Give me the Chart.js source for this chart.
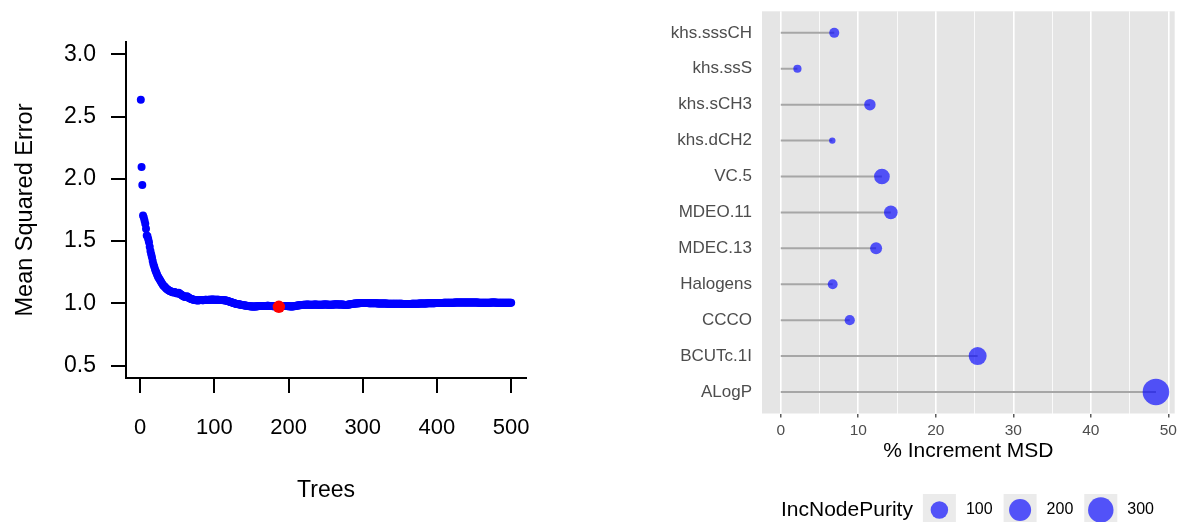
<!DOCTYPE html>
<html>
<head>
<meta charset="utf-8">
<script src="https://cdn.jsdelivr.net/npm/chart.js@4.4.1/dist/chart.umd.min.js"></script>
<style>
  body { margin: 0; background: #fff; overflow: hidden; }
  #wrap { position: relative; width: 1178px; height: 522px; overflow: hidden; }
  canvas { position: absolute; }
  #mseChart { left: 0; top: 0; }
  #impChart { left: 600px; top: -2px; }
</style>
</head>
<body>
<div id="wrap">
  <canvas id="mseChart" width="600" height="522"></canvas>
  <canvas id="impChart" width="588" height="524"></canvas>
</div>
<script>
// left panel: error vs number of trees (tree 1..500)
const mse = [
  2.635,2.095,1.950,1.705,1.690,1.665,1.640,1.600,1.545,1.540,
  1.515,1.490,1.455,1.420,1.395,1.370,1.340,1.315,1.295,1.275,
  1.260,1.245,1.230,1.215,1.205,1.195,1.185,1.175,1.165,1.155,
  1.145,1.140,1.135,1.128,1.122,1.116,1.112,1.108,1.104,1.100,
  1.097,1.095,1.092,1.090,1.088,1.092,1.090,1.086,1.083,1.080,
  1.082,1.085,1.080,1.075,1.070,1.066,1.062,1.058,1.055,1.052,
  1.050,1.052,1.056,1.052,1.046,1.042,1.040,1.037,1.034,1.032,
  1.030,1.029,1.028,1.027,1.025,1.024,1.024,1.023,1.024,1.025,
  1.026,1.027,1.026,1.025,1.025,1.026,1.027,1.028,1.028,1.027,
  1.027,1.028,1.029,1.028,1.028,1.029,1.030,1.030,1.029,1.029,
  1.028,1.028,1.028,1.029,1.029,1.028,1.027,1.026,1.027,1.027,
  1.026,1.025,1.025,1.024,1.023,1.022,1.020,1.018,1.016,1.014,
  1.012,1.010,1.008,1.006,1.004,1.002,1.000,0.998,0.996,0.995,
  0.994,0.993,0.992,0.991,0.990,0.988,0.987,0.986,0.985,0.984,
  0.983,0.982,0.981,0.980,0.979,0.978,0.977,0.976,0.976,0.975,
  0.975,0.975,0.975,0.975,0.975,0.975,0.976,0.977,0.977,0.978,
  0.978,0.978,0.979,0.979,0.979,0.978,0.978,0.978,0.979,0.979,
  0.980,0.980,0.980,0.979,0.979,0.978,0.978,0.978,0.977,0.977,
  0.977,0.977,0.976,0.976,0.976,0.975,0.972,0.975,0.976,0.976,
  0.977,0.978,0.978,0.979,0.979,0.979,0.978,0.978,0.977,0.977,
  0.976,0.976,0.975,0.975,0.975,0.976,0.976,0.977,0.978,0.980,
  0.981,0.982,0.983,0.984,0.985,0.985,0.986,0.987,0.987,0.988,
  0.988,0.989,0.989,0.989,0.990,0.990,0.989,0.989,0.989,0.988,
  0.988,0.988,0.989,0.989,0.990,0.990,0.990,0.989,0.989,0.988,
  0.988,0.988,0.988,0.989,0.989,0.989,0.990,0.990,0.991,0.991,
  0.990,0.990,0.989,0.989,0.988,0.988,0.988,0.989,0.989,0.990,
  0.990,0.991,0.991,0.992,0.992,0.991,0.991,0.990,0.990,0.990,
  0.991,0.991,0.990,0.989,0.988,0.987,0.987,0.987,0.988,0.989,
  0.990,0.991,0.992,0.993,0.994,0.995,0.996,0.997,0.998,0.998,
  0.999,0.999,1.000,1.000,1.001,1.001,1.002,1.002,1.002,1.002,
  1.002,1.002,1.003,1.003,1.002,1.002,1.002,1.001,1.001,1.001,
  1.001,1.000,1.000,1.000,1.001,1.001,1.001,1.000,1.000,0.999,
  0.999,0.999,0.999,0.999,0.998,0.998,0.998,0.998,0.998,0.998,
  0.998,0.998,0.997,0.997,0.997,0.997,0.997,0.997,0.996,0.996,
  0.996,0.996,0.996,0.996,0.996,0.996,0.996,0.996,0.996,0.996,
  0.996,0.996,0.996,0.995,0.995,0.995,0.995,0.995,0.995,0.995,
  0.995,0.995,0.995,0.995,0.995,0.996,0.996,0.996,0.996,0.996,
  0.997,0.997,0.997,0.997,0.997,0.998,0.998,0.998,0.998,0.998,
  0.998,0.999,0.999,0.999,0.999,0.999,1.000,1.000,1.000,1.000,
  1.000,1.000,1.000,1.001,1.001,1.001,1.001,1.002,1.002,1.002,
  1.002,1.002,1.002,1.003,1.003,1.003,1.003,1.003,1.004,1.004,
  1.004,1.004,1.004,1.004,1.004,1.005,1.005,1.005,1.005,1.005,
  1.005,1.005,1.005,1.006,1.006,1.006,1.006,1.006,1.006,1.006,
  1.006,1.006,1.006,1.006,1.006,1.006,1.006,1.006,1.006,1.006,
  1.006,1.006,1.006,1.006,1.006,1.006,1.006,1.006,1.006,1.006,
  1.006,1.006,1.006,1.006,1.006,1.005,1.005,1.005,1.005,1.005,
  1.005,1.005,1.005,1.005,1.005,1.005,1.005,1.005,1.005,1.005,
  1.005,1.005,1.006,1.006,1.006,1.006,1.006,1.006,1.006,1.005,
  1.005,1.005,1.005,1.005,1.005,1.005,1.005,1.005,1.005,1.005,
  1.005,1.005,1.005,1.005,1.004,1.004,1.004,1.004,1.004,1.004
];
const treeTicks = [0, 100, 200, 300, 400, 500];
const mseTicks = [0.5, 1.0, 1.5, 2.0, 2.5, 3.0];

// right panel: variable importance
const features = ['khs.sssCH', 'khs.ssS', 'khs.sCH3', 'khs.dCH2', 'VC.5', 'MDEO.11',
                  'MDEC.13', 'Halogens', 'CCCO', 'BCUTc.1I', 'ALogP'];
const incMSE = [6.9, 2.15, 11.5, 6.65, 13.05, 14.2, 12.3, 6.7, 8.9, 25.4, 48.4];
const incNodePurity = [24, 15, 35, 12, 90, 60, 40, 23, 25, 133, 380];
const msdTicks = [0, 10, 20, 30, 40, 50];
const msdGrid = [0, 5, 10, 15, 20, 25, 30, 35, 40, 45, 50];
const purityBreaks = [100, 200, 300];

const FONT = "'Liberation Sans', Arial, Helvetica, sans-serif";
Chart.defaults.font.family = FONT;

// ---------- left chart ----------
const points = mse.map((v, i) => ({ x: i + 1, y: v }));
let best = 0;
mse.forEach((v, i) => { if (v < mse[best]) best = i; });

new Chart(document.getElementById('mseChart'), {
  type: 'scatter',
  data: {
    datasets: [
      { data: [{ x: best + 1, y: mse[best] }], backgroundColor: '#ff0000', pointRadius: 6.2, borderWidth: 0, order: 0 },
      { data: points, backgroundColor: '#0000ff', pointRadius: 4, borderWidth: 0, order: 1 }
    ]
  },
  options: {
    responsive: false,
    devicePixelRatio: 1,
    animation: false,
    layout: { padding: { top: 42, right: 74, left: 0, bottom: 0 } },
    plugins: { legend: { display: false }, tooltip: { enabled: false } },
    scales: {
      x: {
        type: 'linear', min: -18.96, max: 519.96,
        afterBuildTicks: s => { s.ticks = treeTicks.map(v => ({ value: v })); },
        afterFit: s => { s.height = 144; s.paddingLeft = 0; s.paddingRight = 0; },
        grid: { drawOnChartArea: false, tickLength: 15, color: '#000', lineWidth: 2 },
        border: { color: '#000', width: 2 },
        ticks: { color: '#000', font: { size: 22 }, padding: 22, maxRotation: 0, autoSkip: false },
        title: { display: true, text: 'Trees', color: '#000', font: { size: 23 }, padding: { top: 0, bottom: 18 } }
      },
      y: {
        type: 'linear', min: 0.4, max: 3.1,
        afterBuildTicks: s => { s.ticks = mseTicks.map(v => ({ value: v })); },
        afterFit: s => { s.width = 126; s.paddingTop = 0; s.paddingBottom = 0; },
        grid: { drawOnChartArea: false, tickLength: 15, color: '#000', lineWidth: 2 },
        border: { color: '#000', width: 2 },
        ticks: { color: '#000', font: { size: 23 }, padding: 15, autoSkip: false, callback: v => v.toFixed(1) },
        title: { display: true, text: 'Mean Squared Error', color: '#000', font: { size: 23.5 }, padding: { top: 11, bottom: 0 } }
      }
    }
  }
});

// ---------- right chart ----------
const minP = Math.min(...incNodePurity);
const maxP = Math.max(...incNodePurity);
const radiusFor = p => 3.2 + 10.1 * Math.sqrt(Math.max(0, p - minP) / (maxP - minP));
const xHi = Math.max(...incMSE);
const xPad = xHi * 0.05;

const panelBg = {
  id: 'panelBg',
  beforeDraw(chart) {
    const { ctx, chartArea: a } = chart;
    ctx.save();
    ctx.fillStyle = '#e5e5e5';
    ctx.fillRect(a.left, a.top, a.right - a.left, a.bottom - a.top);
    ctx.restore();
  }
};

const purityLegend = {
  id: 'purityLegend',
  afterDraw(chart) {
    const ctx = chart.ctx;
    const cy = 512;   // canvas sits 2px above the page top
    let x = 181;
    ctx.save();
    ctx.textBaseline = 'middle';
    ctx.fillStyle = '#000';
    ctx.font = '21px ' + FONT;
    ctx.fillText('IncNodePurity', x, cy);
    x += ctx.measureText('IncNodePurity').width + 10;
    ctx.font = '16px ' + FONT;
    purityBreaks.forEach(b => {
      const w = 33;
      ctx.fillStyle = '#ebebeb';
      ctx.fillRect(x, cy - 16, w, 40);
      ctx.fillStyle = 'rgba(0,0,255,0.65)';
      ctx.beginPath();
      ctx.arc(x + w / 2, cy, radiusFor(b) + 0.6, 0, Math.PI * 2);
      ctx.fill();
      x += w + 10;
      ctx.fillStyle = '#000';
      ctx.fillText(String(b), x, cy);
      x += ctx.measureText(String(b)).width + 11;
    });
    ctx.restore();
  }
};

const segments = features.map((f, i) => ({
  type: 'line',
  data: [{ x: 0, y: i }, { x: incMSE[i], y: i }],
  borderColor: '#a6a6a6', borderWidth: 2, pointRadius: 0, order: 1
}));

new Chart(document.getElementById('impChart'), {
  type: 'bubble',
  data: {
    datasets: [
      {
        type: 'bubble',
        data: features.map((f, i) => ({ x: incMSE[i], y: i, r: radiusFor(incNodePurity[i]) })),
        backgroundColor: 'rgba(0,0,255,0.65)', borderWidth: 0, order: 0
      },
      ...segments
    ]
  },
  options: {
    responsive: false,
    devicePixelRatio: 1,
    animation: false,
    layout: { padding: { top: 0, right: 3, left: 0, bottom: 0 } },
    plugins: { legend: { display: false }, tooltip: { enabled: false } },
    scales: {
      x: {
        type: 'linear', min: -xPad, max: xHi + xPad,
        afterBuildTicks: s => { s.ticks = msdGrid.map(v => ({ value: v })); },
        afterFit: s => { s.height = 108.5; s.paddingLeft = 0; s.paddingRight = 0; },
        grid: {
          color: '#ffffff',
          lineWidth: c => msdTicks.includes(c.tick.value) ? 1.6 : 0.8,
          tickColor: c => msdTicks.includes(c.tick.value) ? '#333333' : 'rgba(0,0,0,0)',
          tickWidth: 1.2, tickLength: 4
        },
        border: { display: false },
        ticks: {
          color: '#4d4d4d', font: { size: 15.5 }, padding: 3.5, maxRotation: 0, autoSkip: false,
          callback: v => msdTicks.includes(v) ? String(v) : ''
        },
        title: { display: true, text: '% Increment MSD', color: '#000', font: { size: 21 }, padding: { top: 0, bottom: 58 } }
      },
      y: {
        type: 'linear', min: -0.6, max: features.length - 0.4, reverse: true,
        afterBuildTicks: s => { s.ticks = features.map((f, i) => ({ value: i })); },
        afterFit: s => { s.width = 162; s.paddingTop = 0; s.paddingBottom = 0; },
        grid: { display: false, drawTicks: false },
        border: { display: false },
        ticks: { color: '#4d4d4d', font: { size: 17 }, padding: 10, autoSkip: false, callback: v => features[v] }
      }
    }
  },
  plugins: [panelBg, purityLegend]
});
</script>
</body>
</html>
